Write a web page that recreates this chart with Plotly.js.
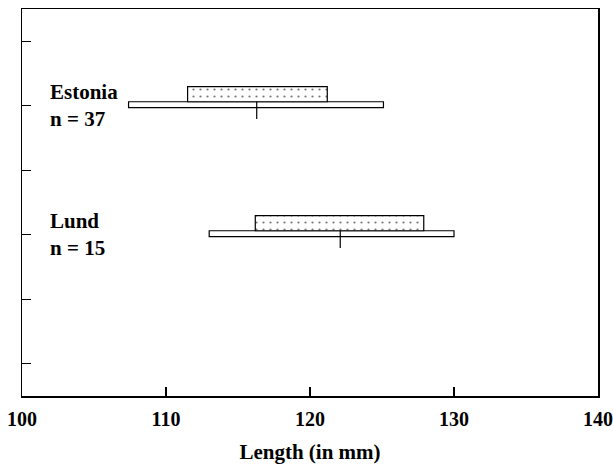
<!DOCTYPE html>
<html>
<head>
<meta charset="utf-8">
<script src="https://cdn.plot.ly/plotly-3.0.1.min.js"></script>
<style>html,body{margin:0;padding:0;background:#fff;}#chart{width:613px;height:464px;}</style>
</head>
<body>
<div id="chart"></div>
<script>
const groups = ['Estonia', 'Lund'];
const nLabels = ['n = 37', 'n = 15'];
const yPos = [5, 3];
const rangeMin = [107.4, 113.0];
const rangeMax = [125.1, 130.0];
const boxLo = [111.5, 116.2];
const boxHi = [121.2, 127.9];
const means = [116.3, 122.1];
const xTicks = [100, 110, 120, 130, 140];
const yTicks = [1, 2, 3, 4, 5, 6];

const serif = 'Liberation Serif, Times New Roman, serif';

const rangeTrace = {
  type: 'bar', orientation: 'h',
  y: yPos,
  base: rangeMin,
  x: rangeMax.map((v, i) => v - rangeMin[i]),
  offset: -0.03, width: 0.092,
  marker: {color: 'white', line: {color: 'black', width: 1.2}},
  hoverinfo: 'skip', showlegend: false
};
const boxTrace = {
  type: 'bar', orientation: 'h',
  y: yPos,
  base: boxLo,
  x: boxHi.map((v, i) => v - boxLo[i]),
  offset: 0.062, width: 0.233,
  marker: {color: 'white', line: {color: 'black', width: 1.2},
    pattern: {shape: '.', size: 7, solidity: 0.08, fgcolor: '#777', bgcolor: 'white'}},
  hoverinfo: 'skip', showlegend: false
};
const mx = [], my = [];
means.forEach((m, i) => { mx.push(m, m, null); my.push(yPos[i] + 0.062, yPos[i] - 0.205, null); });
const meanTrace = {
  type: 'scatter', mode: 'lines', x: mx, y: my,
  line: {color: 'black', width: 1.2}, hoverinfo: 'skip', showlegend: false
};

const annotations = groups.map((g, i) => ({
  xref: 'paper', yref: 'y', x: 0.045, y: yPos[i],
  xanchor: 'left', yanchor: 'middle', align: 'left',
  text: '<b>' + g + '</b><br><b>' + nLabels[i] + '</b>',
  showarrow: false, font: {family: serif, size: 21, color: 'black'}
}));

const layout = {
  width: 613, height: 464,
  margin: {l: 22, r: 15, t: 9, b: 68},
  paper_bgcolor: 'white', plot_bgcolor: 'white',
  barmode: 'overlay',
  showlegend: false,
  xaxis: {
    range: [100, 140], tickvals: xTicks, ticktext: xTicks.map(v => '<b>' + v + '</b>'),
    ticks: 'inside', ticklen: 9, tickwidth: 1.2, tickcolor: 'black',
    ticklabeloverflow: 'allow', ticklabelstandoff: 4,
    showline: true, linecolor: 'black', linewidth: 1.5, mirror: true,
    showgrid: false, zeroline: false,
    tickfont: {family: serif, size: 20, color: 'black'},
    title: {text: '<b>Length (in mm)</b>', font: {family: serif, size: 21, color: 'black'}, standoff: 16}
  },
  yaxis: {
    range: [0.5, 6.5], tickvals: yTicks, showticklabels: false,
    ticks: 'inside', ticklen: 9, tickwidth: 1.2, tickcolor: 'black',
    showline: true, linecolor: 'black', linewidth: 1.5, mirror: true,
    showgrid: false, zeroline: false
  },
  annotations: annotations
};

Plotly.newPlot('chart', [rangeTrace, boxTrace, meanTrace], layout, {displayModeBar: false, staticPlot: true});
</script>
</body>
</html>
